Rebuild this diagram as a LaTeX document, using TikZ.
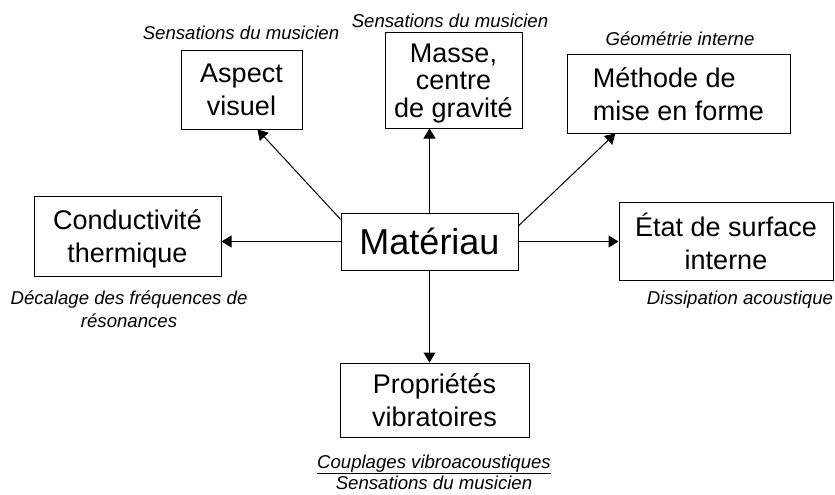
\documentclass[tikz,border=0pt]{standalone}
\usepackage{fontspec}
\setmainfont{Liberation Sans}
\usetikzlibrary{arrows.meta}
\tikzset{
	boite/.style={draw,inner sep=0pt,align=center,font=\fontsize{27}{33}\selectfont},
	note/.style={anchor=base,align=center,font=\fontsize{18.6}{23}\selectfont\itshape}
}
\begin{document}
\begin{tikzpicture}[x=1pt,y=-1pt,line width=1pt,>={Triangle[length=10pt,width=12pt]}]
	\useasboundingbox (0,0) rectangle (835,495);
	% boites
	\node[boite,minimum width=177,minimum height=57,font=\fontsize{36}{40}\selectfont](mat) at (429.5,241.5) {Matériau};
	\node[boite,minimum width=121,minimum height=78](asp) at (241.5,90) {Aspect\\visuel};
	\node[boite,minimum width=137,minimum height=95,text depth=0pt,font=\fontsize{27}{27.5}\selectfont](mas) at (453.5,80.5) {Masse,\\centre\\de gravité};
	\node[boite,minimum width=223,minimum height=78,align=left](met) at (678.5,94) {Méthode de\\mise en forme};
	\node[boite,minimum width=187,minimum height=80,text depth=0pt](con) at (127.5,236) {Conductivité\\thermique};
	\node[boite,minimum width=214,minimum height=78](eta) at (726,241) {État de surface\\interne};
	\node[boite,minimum width=189,minimum height=74](pro) at (434.5,400) {Propriétés\\vibratoires};
	% fleches
	\draw[->](mat.166)--(asp.-68);
	\draw[->](mat.north)--(mat.north |- mas.south);
	\draw[->](mat.10)--(met.212);
	\draw[->](mat.west)--(mat.west -| con.east);
	\draw[->](mat.east)--(mat.east -| eta.west);
	\draw[->](mat.south)--(mat.south |- pro.north);
	% commentaires
	\node[note](n1) at (241,40) {Sensations du musicien};
	\node[note](n2) at (450,28) {Sensations du musicien};
	\node[note](n3) at (680,46) {Géométrie interne};
	\node[note](n4) at (129,327) {Décalage des fréquences de\\résonances};
	\node[note](n5) at (740,304) {Dissipation acoustique};
	\node[note,font=\fontsize{18.6}{21}\selectfont\itshape](n6) at (434,489) {\underline{Couplages vibroacoustiques}\\Sensations du musicien};
\end{tikzpicture}
\end{document}
